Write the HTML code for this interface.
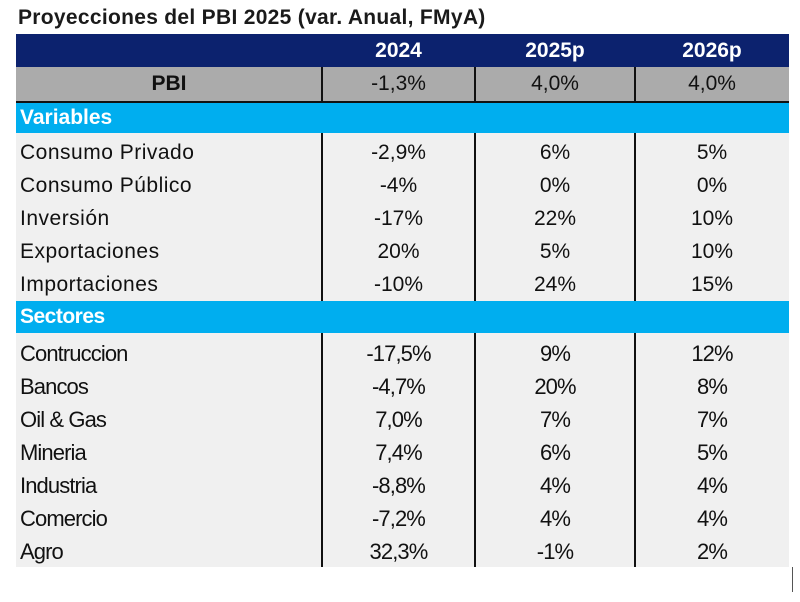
<!DOCTYPE html>
<html><head><meta charset="utf-8"><style>
body{margin:0;width:800px;height:602px;background:#fff;position:relative;overflow:hidden;font-family:"Liberation Sans",Arial,sans-serif;color:#111}
.a{position:absolute;box-sizing:border-box}
.t{left:18px;top:6px;font-size:21px;font-weight:bold;letter-spacing:0.3px;color:#1a1a1a}
.row{position:absolute;left:16px;width:773px;height:33px;font-size:21px}
.row div{position:absolute;top:0;height:33px;line-height:33px}
.lab{left:4px;letter-spacing:0.5px}
.c1{left:306px;width:153px;text-align:center}
.c2{left:459px;width:160px;text-align:center}
.c3{left:619px;width:154px;text-align:center}
.sec{font-size:22px}
.sec .lab,.sec .c1,.sec .c2,.sec .c3{letter-spacing:-0.9px}
.vl{position:absolute;width:2px;background:#111}
</style></head><body>
<div class="a t">Proyecciones del PBI 2025 (var. Anual, FMyA)</div>
<div class="a" style="left:16px;top:133px;width:773px;height:434px;background:#f0f0f0"></div>
<div class="row" style="top:34px;background:#0c226e;color:#fff;font-weight:bold">
<div class="c1">2024</div><div class="c2">2025p</div><div class="c3">2026p</div></div>
<div class="row" style="top:67px;height:34px;background:#ababab;border-bottom:2px solid #111">
<div style="left:0;width:306px;text-align:center;font-weight:bold">PBI</div><div class="c1">-1,3%</div><div class="c2">4,0%</div><div class="c3">4,0%</div></div>
<div class="row" style="top:103px;height:30px;background:#00aeef;color:#fff;font-weight:bold"><div class="lab" style="height:30px;line-height:30px;letter-spacing:0">Variables</div></div>
<div class="row" style="top:301px;height:32px;background:#00aeef;color:#fff;font-weight:bold"><div class="lab" style="height:32px;line-height:32px;letter-spacing:-0.5px">Sectores</div></div>
<div id="rows"></div>
<div class="vl" style="left:321px;top:67px;height:34px"></div>
<div class="vl" style="left:474px;top:67px;height:34px"></div>
<div class="vl" style="left:634px;top:67px;height:34px"></div>
<div class="vl" style="left:321px;top:133px;height:168px"></div>
<div class="vl" style="left:474px;top:133px;height:168px"></div>
<div class="vl" style="left:634px;top:133px;height:168px"></div>
<div class="vl" style="left:321px;top:333px;height:234px"></div>
<div class="vl" style="left:474px;top:333px;height:234px"></div>
<div class="vl" style="left:634px;top:333px;height:234px"></div>
<div class="a" style="left:792px;top:567px;width:1px;height:25px;background:#555"></div>
<script>
const varLabels=["Consumo Privado","Consumo Público","Inversión","Exportaciones","Importaciones"];
const var2024=["-2,9%","-4%","-17%","20%","-10%"];
const var2025=["6%","0%","22%","5%","24%"];
const var2026=["5%","0%","10%","10%","15%"];
const secLabels=["Contruccion","Bancos","Oil & Gas","Mineria","Industria","Comercio","Agro"];
const sec2024=["-17,5%","-4,7%","7,0%","7,4%","-8,8%","-7,2%","32,3%"];
const sec2025=["9%","20%","7%","6%","4%","4%","-1%"];
const sec2026=["12%","8%","7%","5%","4%","4%","2%"];
const host=document.getElementById('rows');
function add(labels,a,b,c,top,h,cls){
labels.forEach((l,i)=>{
const r=document.createElement('div');
r.className='row '+cls;
r.style.top=(top+i*h)+'px';


[[ 'lab',l],['c1',a[i]],['c2',b[i]],['c3',c[i]]].forEach(([k,v])=>{
const d=document.createElement('div');d.className=k;d.textContent=v;


r.appendChild(d);});
host.appendChild(r);});}
add(varLabels,var2024,var2025,var2026,136,33,'var');
add(secLabels,sec2024,sec2025,sec2026,337,33,'sec');
</script>
</body></html>
